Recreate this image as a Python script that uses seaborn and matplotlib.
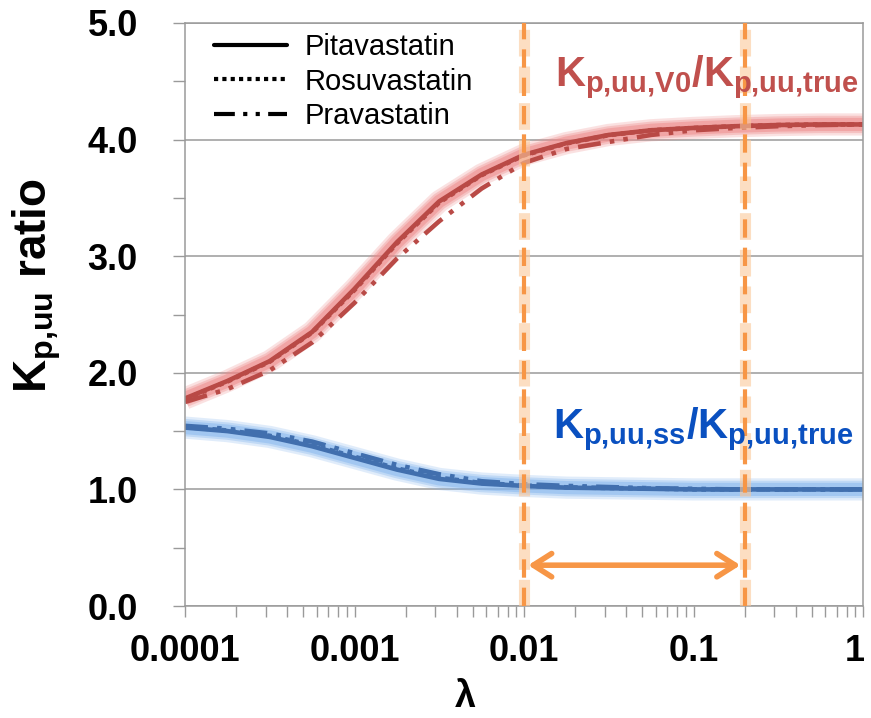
import numpy as np
import pandas as pd
import matplotlib
matplotlib.use("Agg")
import matplotlib.pyplot as plt
import matplotlib.transforms as mtransforms
import seaborn as sns
from matplotlib.ticker import FixedLocator, LogLocator, NullFormatter
from matplotlib.lines import Line2D

# ---------------- data ----------------
lam = [1e-4, 1.78e-4, 3.16e-4, 5.62e-4, 1e-3, 1.78e-3, 3.16e-3, 5.62e-3,
       1e-2, 1.78e-2, 3.16e-2, 5.62e-2, 1e-1, 1.78e-1, 3.16e-1, 5.62e-1, 1.0]

v0_pita  = [1.78, 1.93, 2.10, 2.35, 2.72, 3.12, 3.47, 3.70, 3.87, 3.97, 4.04, 4.08, 4.10, 4.115, 4.125, 4.13, 4.13]
v0_rosu  = [1.775, 1.925, 2.095, 2.345, 2.71, 3.11, 3.46, 3.695, 3.865, 3.967, 4.038, 4.08, 4.10, 4.115, 4.125, 4.13, 4.13]
v0_prav  = [1.75, 1.86, 2.02, 2.26, 2.60, 2.98, 3.30, 3.58, 3.80, 3.92, 3.98, 4.04, 4.08, 4.10, 4.115, 4.125, 4.13]

ss_pita  = [1.53, 1.50, 1.45, 1.37, 1.27, 1.17, 1.09, 1.05, 1.03, 1.015, 1.01, 1.005, 1.0, 1.0, 1.0, 1.0, 1.0]
ss_rosu  = [1.535, 1.505, 1.46, 1.38, 1.28, 1.18, 1.10, 1.055, 1.033, 1.018, 1.012, 1.007, 1.0, 1.0, 1.0, 1.0, 1.0]
ss_prav  = [1.545, 1.52, 1.48, 1.41, 1.31, 1.21, 1.13, 1.07, 1.045, 1.03, 1.02, 1.01, 1.005, 1.0, 1.0, 1.0, 1.0]

drugs = ["Pitavastatin", "Rosuvastatin", "Pravastatin"]
range_lo, range_hi = 0.01, 0.2
arrow_y = 0.35
y_ticks = [0.0, 1.0, 2.0, 3.0, 4.0, 5.0]
x_ticks = [1e-4, 1e-3, 1e-2, 1e-1, 1.0]
x_ticklabels = ["0.0001", "0.001", "0.01", "0.1", "1"]

# ---------------- style ----------------
sns.set_theme(style="white")
plt.rcParams["font.family"] = ["Liberation Sans", "DejaVu Sans"]
plt.rcParams["mathtext.fontset"] = "custom"
plt.rcParams["mathtext.rm"] = "Liberation Sans:bold"
plt.rcParams["mathtext.it"] = "Liberation Sans:bold"
plt.rcParams["mathtext.bf"] = "Liberation Sans:bold"
plt.rcParams["mathtext.sf"] = "Liberation Sans:bold"

RED = "#B94A46"
RED_GLOW = "#EE8A8A"
BLUE = "#416FAE"
BLUE_GLOW = "#86B6EE"
ORANGE = "#F79646"
ORANGE_GLOW = "#FBC89A"

styles = {
    "Pitavastatin": "-",
    "Rosuvastatin": (0, (1, 1)),
    "Pravastatin": (0, (5, 2, 1, 2, 1, 2)),
}

W, H = 871, 718
fig = plt.figure(figsize=(W / 100, H / 100), dpi=100)
ax = fig.add_axes([185 / W, 1 - 606 / H, (863 - 185) / W, (606 - 23) / H])

df = pd.DataFrame({
    "lam": lam * 6,
    "val": v0_pita + v0_rosu + v0_prav + ss_pita + ss_rosu + ss_prav,
    "drug": sum([[d] * len(lam) for d in drugs], []) * 2,
    "ratio": ["V0"] * (3 * len(lam)) + ["ss"] * (3 * len(lam)),
})

# glow underlays
for ratio, gcol in [("V0", RED_GLOW), ("ss", BLUE_GLOW)]:
    sub = df[(df.ratio == ratio) & (df.drug == "Pitavastatin")]
    for lw, a in [(16, 0.25), (12.5, 0.35), (9.5, 0.5)]:
        sns.lineplot(data=sub, x="lam", y="val", ax=ax, color=gcol, lw=lw,
                     alpha=a, legend=False, solid_capstyle="butt",
                     solid_joinstyle="round")

# main lines
for ratio, col in [("V0", RED), ("ss", BLUE)]:
    for d in ["Pravastatin", "Rosuvastatin", "Pitavastatin"]:
        sub = df[(df.ratio == ratio) & (df.drug == d)]
        sns.lineplot(data=sub, x="lam", y="val", ax=ax, color=col, lw=3.3,
                     linestyle=styles[d], legend=False,
                     solid_joinstyle="round")

# orange range markers
for xv in [range_lo, range_hi]:
    ax.axvline(xv, color=ORANGE_GLOW, lw=8, alpha=0.6, zorder=4,
               linestyle=(0, (2.4, 0.9)))
    ax.axvline(xv, color=ORANGE, lw=3, zorder=5, linestyle=(0, (4.4, 2.4)))

ax.annotate("", xy=(range_hi, arrow_y), xytext=(range_lo, arrow_y),
            arrowprops=dict(arrowstyle="<->,head_length=1.1,head_width=0.7",
                            color=ORANGE, lw=4, shrinkA=3, shrinkB=3,
                            capstyle="round", joinstyle="round"),
            zorder=6)

# axes
ax.set_xscale("log")
ax.set_xlim(1e-4, 1)
ax.set_ylim(0, 5)
ax.yaxis.set_major_locator(FixedLocator(y_ticks))
ax.yaxis.set_minor_locator(FixedLocator([0.5, 1.5, 2.5, 3.5, 4.5]))
ax.set_yticklabels([f"{v:.1f}" for v in y_ticks])
ax.xaxis.set_major_locator(FixedLocator(x_ticks))
ax.set_xticklabels(x_ticklabels)
ax.xaxis.set_minor_locator(LogLocator(base=10, subs=np.arange(2, 10)))
ax.xaxis.set_minor_formatter(NullFormatter())

ax.grid(axis="y", which="major", color="#9A9A9A", lw=1.1)
ax.grid(axis="x", visible=False)
for s in ax.spines.values():
    s.set_color("#9A9A9A")
    s.set_linewidth(1.1)

ax.tick_params(axis="y", which="both", direction="out", length=9, width=1,
               color="#9A9A9A", left=True, pad=25, labelsize=26,
               labelcolor="black")
ax.tick_params(axis="x", which="both", direction="out", length=8, width=1,
               color="#9A9A9A", bottom=True, pad=12, labelsize=26,
               labelcolor="black")
for lab in ax.get_xticklabels() + ax.get_yticklabels():
    lab.set_fontweight("bold")
# keep the last x label inside the canvas
last = ax.get_xticklabels()[-1]
last.set_transform(last.get_transform() +
                   mtransforms.ScaledTranslation(-8 / 100, 0, fig.dpi_scale_trans))

ax.set_xlabel("λ", fontsize=27, fontweight="bold", color="black")
ax.xaxis.set_label_coords(0.413, -0.125)
ax.set_ylabel(r"$\mathbf{K_{p{,}uu}}$ ratio", fontsize=33, fontweight="bold",
              color="black")
ax.yaxis.set_label_coords(-0.18, 0.55)

# legend
handles = [Line2D([], [], color="black", lw=3, linestyle=styles[d]) for d in drugs]
leg = ax.legend(handles, drugs, loc="upper left", bbox_to_anchor=(0.015, 1.015),
                frameon=False, fontsize=21, handlelength=2.5, handletextpad=0.6,
                labelspacing=0.22, borderaxespad=0.25)
for t in leg.get_texts():
    t.set_color("black")

# annotations
fig.text(555 / W, 1 - 86 / H, r"$K_{p{,}uu{,}V0}/K_{p{,}uu{,}true}$",
         color="#C0504D", fontsize=30, ha="left", va="baseline")
fig.text(553 / W, 1 - 438 / H, r"$K_{p{,}uu{,}ss}/K_{p{,}uu{,}true}$",
         color="#0A50C0", fontsize=30, ha="left", va="baseline")

fig.savefig("out.png", dpi=100)
